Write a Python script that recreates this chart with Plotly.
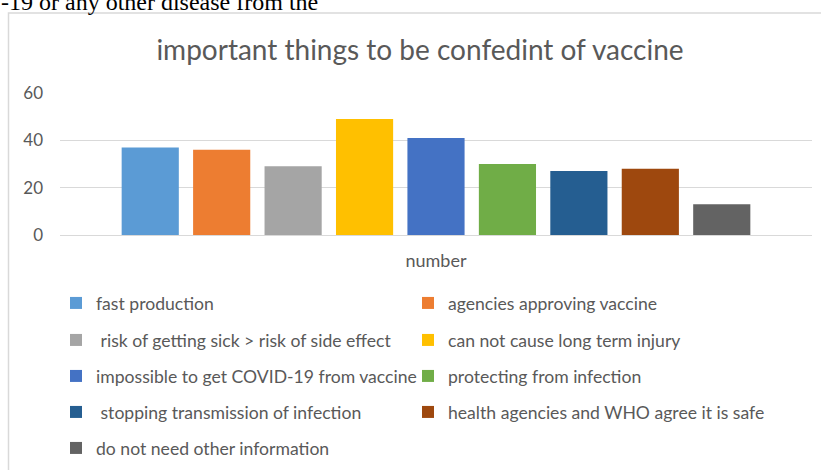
import plotly.graph_objects as go

categories = ["number"]
series_names = [
    "fast production",
    "agencies approving vaccine",
    " risk of getting sick > risk of side effect",
    "can not cause long term injury",
    "impossible to get COVID-19 from vaccine",
    "protecting from infection",
    " stopping transmission of infection",
    "health agencies and WHO agree it is safe",
    "do not need other information",
]
series_values = [37, 36, 29, 49, 41, 30, 27, 28, 13]
series_colors = ["#5B9BD5", "#ED7D31", "#A5A5A5", "#FFC000", "#4472C4",
                 "#70AD47", "#255E91", "#9E480E", "#636363"]
y_ticks = [0, 20, 40, 60]

W, H = 821, 470
L, R, T, B = 60, 9, 93, 235
PH = H - T - B
PW = W - L - R

def py(p):
    return (H - B - p) / PH

def px(p):
    return (p - L) / PW

FONT = "Lato"
GREY = "#595959"

fig = go.Figure()
legend_ids = ["legend"] + ["legend%d" % k for k in range(2, len(series_names) + 1)]
for i, (n, v, c) in enumerate(zip(series_names, series_values, series_colors)):
    fig.add_trace(go.Bar(
        x=categories, y=[v], name=n, marker_color=c,
        marker_line_width=0, legend=legend_ids[i], showlegend=True,
    ))

row_y = [303, 340, 376, 412, 448]
col_x = [56, 408]
legend_layout = {}
for i, lid in enumerate(legend_ids):
    legend_layout[lid] = dict(
        orientation="h", x=px(col_x[i % 2]), xanchor="left",
        y=py(row_y[i // 2]), yanchor="middle", bgcolor="rgba(0,0,0,0)",
        font=dict(family=FONT, size=17.6, color=GREY),
        itemclick=False, itemdoubleclick=False, visible=True,
    )

fig.update_layout(
    width=W, height=H, showlegend=True,
    margin=dict(l=L, r=R, t=T, b=B, autoexpand=False),
    paper_bgcolor="white", plot_bgcolor="white",
    barmode="group", bargap=0.145, bargroupgap=0.2,
    title=dict(text="important things to be confedint of vaccine",
               x=420 / W, xanchor="center", y=1 - 50 / H, yanchor="middle",
               font=dict(family=FONT, size=28, color=GREY)),
    xaxis=dict(showline=False, showgrid=False, ticks="", zeroline=False,
               ticklabelstandoff=13,
               tickfont=dict(family=FONT, size=18, color=GREY)),
    yaxis=dict(range=[0, 60], tickvals=y_ticks, showline=False, gridcolor="#D9D9D9",
               gridwidth=1, zeroline=True, zerolinecolor="#D9D9D9", zerolinewidth=1,
               ticks="", ticklabelstandoff=16,
               tickfont=dict(family=FONT, size=17, color=GREY)),
    shapes=[dict(type="rect", xref="paper", yref="paper",
                 x0=px(8.5), x1=px(830), y0=py(480), y1=py(13),
                 line=dict(color="#D9D9D9", width=1.5), fillcolor="rgba(0,0,0,0)",
                 layer="below")],
    annotations=[dict(text="-19 or any other disease from the", xref="paper", yref="paper",
                      x=px(-1), xanchor="left", y=py(1.5), yanchor="middle",
                      showarrow=False,
                      font=dict(family="Liberation Serif", size=24, color="black"))],
    **legend_layout,
)

fig.write_html("out.html", config={"displayModeBar": False},
               post_script="document.body.style.margin='0px';")
